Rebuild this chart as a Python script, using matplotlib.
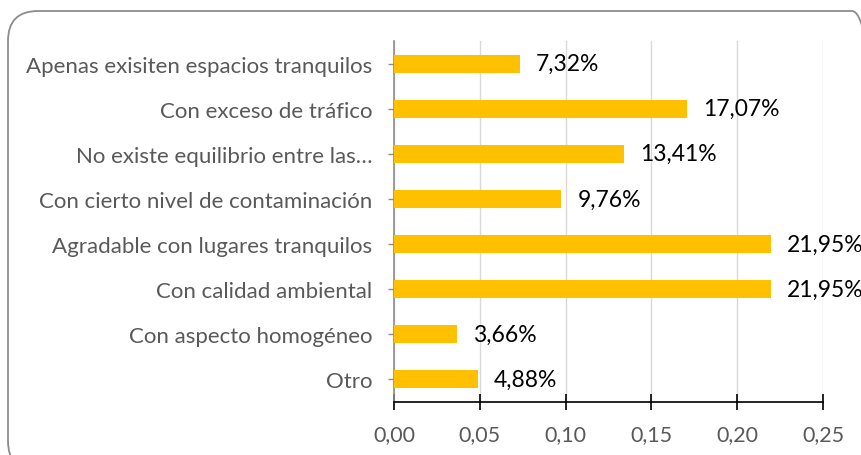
import matplotlib.pyplot as plt
from matplotlib.patches import FancyBboxPatch
from matplotlib.transforms import IdentityTransform

# categorias (de arriba hacia abajo) y proporciones
categorias = ['Apenas exisiten espacios tranquilos', 'Con exceso de tráfico',
              'No existe equilibrio entre las…', 'Con cierto nivel de contaminación',
              'Agradable con lugares tranquilos', 'Con calidad ambiental',
              'Con aspecto homogéneo', 'Otro']
valores = [0.0732, 0.1707, 0.1341, 0.0976, 0.2195, 0.2195, 0.0366, 0.0488]
etiquetas = ['7,32%', '17,07%', '13,41%', '9,76%', '21,95%', '21,95%', '3,66%', '4,88%']
ticks_x = [0.00, 0.05, 0.10, 0.15, 0.20, 0.25]

plt.rcParams['font.family'] = ['Lato', 'DejaVu Sans']

fig = plt.figure(figsize=(8.61, 4.56), dpi=100)
ax = fig.add_axes([394/861, 1-403/456, (823-394)/861, (403-42)/456])

# marco redondeado (en pixeles)
marco = FancyBboxPatch((8, -16), 874, 460,
                       boxstyle='round,pad=0,rounding_size=30',
                       transform=IdentityTransform(), facecolor='none',
                       edgecolor='#8c8c8c', linewidth=1.3)
fig.patches.append(marco)

y = list(range(len(categorias)))
ax.barh(y, valores, height=0.4, color='#FFC000', zorder=3)
for yi, v, t in zip(y, valores, etiquetas):
    ax.text(v + 0.0095, yi, t, va='center', ha='left', fontsize=16.5, color='black')

ax.set_ylim(7.5, -0.5)
ax.set_xlim(0, 0.25)
ax.set_yticks(y)
ax.set_yticklabels(categorias, fontsize=16, color='#595959')
ax.set_xticks(ticks_x)
ax.set_xticklabels([f'{t:.2f}'.replace('.', ',') for t in ticks_x], fontsize=15.5, color='#595959')
ax.xaxis.grid(True, color='#d9d9d9', linewidth=1, zorder=0)

for s in ['top', 'right']:
    ax.spines[s].set_visible(False)
ax.spines['bottom'].set_color('black')
ax.spines['bottom'].set_linewidth(1.2)
ax.spines['left'].set_color('#8c8c8c')
ax.spines['left'].set_linewidth(1.2)
ax.tick_params(axis='x', direction='inout', length=12, width=1.2, color='black', pad=10)
ax.tick_params(axis='y', direction='inout', length=9, width=1, color='#8c8c8c', pad=11)

plt.savefig('out.png', dpi=100)
